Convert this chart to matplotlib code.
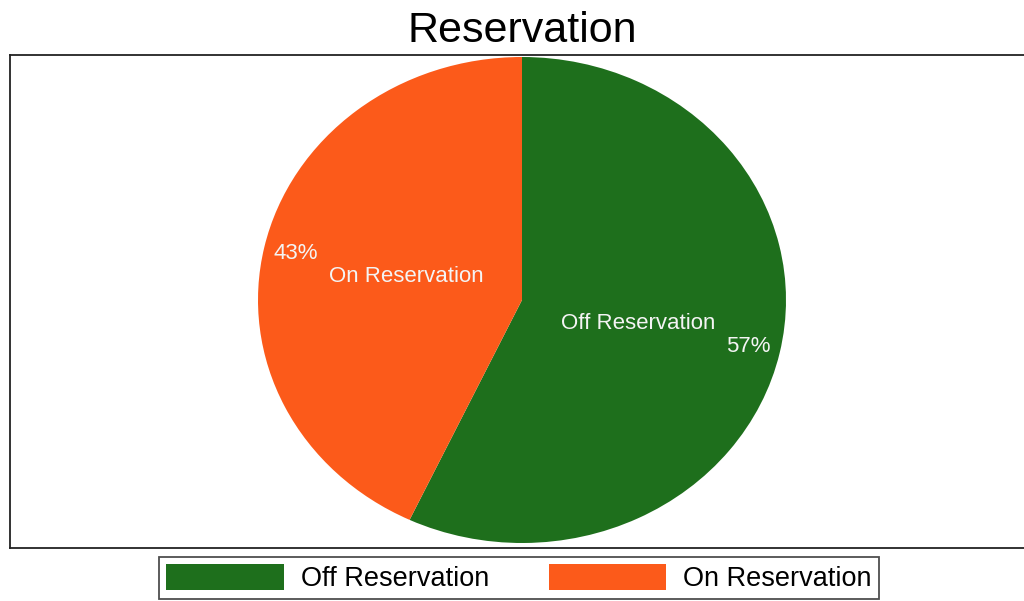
import matplotlib.pyplot as plt
from matplotlib.patches import Patch

# data
categories = ['Off Reservation', 'On Reservation']
shares = [57, 43]
colors = ['#1e6f1c', '#fc5a1a']

plt.rcParams['font.family'] = ['Liberation Sans', 'DejaVu Sans']

fig = plt.figure(figsize=(10.24, 6.01), dpi=100)

# outer frame (right edge runs off the image)
frame = fig.add_axes([10 / 1024, 53 / 601, 1.1, 493 / 601])
frame.set_xticks([])
frame.set_yticks([])
for s in frame.spines.values():
    s.set_linewidth(1.3)
    s.set_color('#222222')

# pie axes stretched to an ellipse
ax = fig.add_axes([258 / 1024, 58 / 601, 528 / 1024, 486 / 601])
wedges, texts, autotexts = ax.pie(
    shares, labels=categories, colors=colors, startangle=90, counterclock=False,
    autopct='%d%%', labeldistance=0.45, pctdistance=0.88,
    textprops=dict(color='#f4f4f4', fontsize=16, ha='center', va='center'),
    wedgeprops=dict(linewidth=0))
ax.set_aspect('auto')
ax.set_xlim(-1, 1)
ax.set_ylim(-1, 1)
ax.axis('off')

fig.text(522 / 1024, 1 - 31 / 601, 'Reservation', ha='center', va='center', fontsize=31)

handles = [Patch(facecolor=c, edgecolor='none') for c in colors]
leg = fig.legend(handles, categories, loc='upper center', bbox_to_anchor=(519 / 1024, 1 - 557 / 601),
                 ncol=2, fontsize=19.5, frameon=True, fancybox=False, edgecolor='#222222',
                 handlelength=4.35, handleheight=1.1, handletextpad=0.62, columnspacing=2.2,
                 borderpad=0.25, borderaxespad=0)
leg.get_frame().set_linewidth(1.3)

fig.savefig('out.png', dpi=100)
